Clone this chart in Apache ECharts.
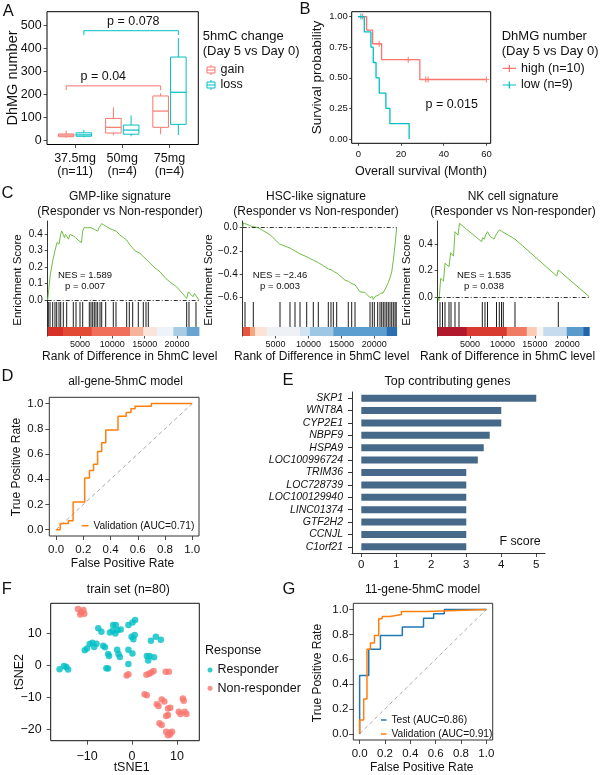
<!DOCTYPE html>
<html>
<head>
<meta charset="utf-8">
<script src="https://cdn.jsdelivr.net/npm/echarts@6/dist/echarts.min.js"></script>
<style>html,body{margin:0;padding:0;background:#fff;}#chart{width:600px;height:775px;}</style>
</head>
<body>
<div id="chart"></div>
<script>
// ================= DATA =================
// Panel A
const doseLabels = ['37.5mg\n(n=11)', '50mg\n(n=4)', '75mg\n(n=4)'];
const gainStats = [[10, 15, 22, 27, 42], [22, 31, 56, 95, 143], [26, 56, 127, 193, 205]]; // min,q1,median,q3,max
const lossStats = [[12, 17, 23, 32, 44], [17, 26, 44, 66, 108], [22, 69, 209, 363, 446]];
const aYTicks = [0, 100, 200, 300, 400, 500];
const lossBracket = [459, 478];
const gainBracket = [219, 237];
const bracketCats = [0, 2];

// Panel B
const highCurve = [[0, 1], [3.9, 0.889], [6.7, 0.778], [10.9, 0.648], [28.8, 0.486], [60, 0.486]];
const lowCurve = [[0, 1], [2.8, 0.875], [5.9, 0.75], [7.0, 0.625], [8.3, 0.5], [9.8, 0.375], [12.9, 0.25], [14.8, 0.125], [23.8, 0]];
const highCensor = [[2.0, 1], [9.8, 0.778], [23.4, 0.648], [31.6, 0.486], [32.7, 0.486], [60, 0.486]];
const lowCensor = [[1.2, 1]];
const bXTicks = [0, 20, 40, 60];
const bYTicks = [0, 0.25, 0.5, 0.75, 1];

// Panel C
const rankTicks = [5000, 10000, 15000, 20000];
const c1ES = [[0,0],[356,0.14],[510,0.13],[773,0.24],[1052,0.23],[1129,0.30],[1361,0.29],[1438,0.35],[1748,0.34],[2011,0.40],[2165,0.42],[2413,0.41],[2598,0.38],[2753,0.40],[2939,0.39],[3217,0.37],[3449,0.40],[3758,0.41],[3959,0.39],[4300,0.38],[4454,0.39],[4841,0.36],[5073,0.36],[5228,0.35],[5413,0.42],[5614,0.44],[5846,0.45],[6155,0.44],[6434,0.45],[6697,0.44],[6960,0.445],[7207,0.43],[7470,0.44],[7733,0.42],[7934,0.44],[8352,0.465],[8599,0.455],[8970,0.45],[9326,0.44],[9635,0.435],[10146,0.426],[10563,0.42],[11182,0.395],[12218,0.365],[12728,0.335],[13501,0.30],[14275,0.284],[15048,0.255],[15821,0.225],[16594,0.195],[17368,0.172],[18296,0.13],[19069,0.105],[19951,0.08],[20616,0.05],[21498,0.01],[21746,0.05],[22473,0.02],[22705,0.04],[23400,0]];
const c2ES = [[0,0],[122,0.04],[577,0.03],[1413,0.01],[1611,0.02],[2325,0.0],[4148,-0.06],[5592,-0.14],[5744,-0.13],[7187,-0.175],[7947,-0.2],[8707,-0.225],[9771,-0.25],[10758,-0.28],[11518,-0.3],[13037,-0.355],[13417,-0.36],[13797,-0.375],[14329,-0.39],[15545,-0.45],[16076,-0.46],[16608,-0.48],[17064,-0.49],[17824,-0.55],[18584,-0.555],[19343,-0.6],[19693,-0.59],[19845,-0.615],[20104,-0.59],[20331,-0.6],[20559,-0.58],[20787,-0.59],[21015,-0.56],[21319,-0.56],[21622,-0.53],[21881,-0.52],[22124,-0.47],[22382,-0.43],[22641,-0.38],[22884,-0.28],[23142,-0.15],[23400,0]];
const c3ES = [[0,0],[201,-0.03],[463,0.14],[895,0.12],[1127,0.255],[1744,0.23],[2007,0.336],[2439,0.31],[2670,0.496],[3133,0.47],[3365,0.56],[6791,0.42],[6915,0.45],[7224,0.44],[7378,0.47],[7532,0.455],[7687,0.496],[8072,0.46],[8690,0.44],[9076,0.48],[9307,0.47],[9508,0.51],[9848,0.50],[10125,0.515],[11931,0.44],[12085,0.45],[18367,0.158],[18615,0.204],[23400,0]];
const c1Hits = [93,356,773,1129,1392,1748,2011,2413,2939,3959,4377,4996,5413,6434,6697,6960,7207,7470,7733,8089,8352,8970,10146,10563,12218,12620,13146,14012,14785,15203,15559,21498,21853,22936];
const c2Hits = [350,1611,5668,7187,7947,8707,9725,10728,11487,13007,13417,13767,14283,16045,16562,17064,19343,19692,19996,20513,20862,21121,21364,21622,21881,22124,22382,22641,22884,23142,23324];
const c3Hits = [355,741,1127,1744,2053,2670,3287,6884,7300,7687,9076,9508,9848,10125,11931,18615];
const c1Strip = [[0,2366],[2366,6805],[6805,12730],[12730,14787],[14787,16905],[16905,19425],[19425,21498],[21498,23400]];
const c1StripColors = ['#D73027','#E34A36','#EF6F5A','#F6B39C','#FBE4DB','#EEF3F8','#A9CCE4','#6AA5D2'];
const c2Strip = [[0,1109],[1109,1869],[1869,3647],[3647,8707],[8707,10227],[10227,13767],[13767,21881],[21881,23400]];
const c2StripColors = ['#E8553E','#F4A582','#FBE3D6','#EEF1F6','#D2E4F1','#9DC7E2','#5B9ECF','#2C6FB0'];
const c3Strip = [[0,4476],[4476,10651],[10651,13738],[13738,15282],[15282,16300],[16300,19911],[19911,22473],[22473,23400]];
const c3StripColors = ['#B2182B','#D93A30','#F07A62','#FACCB5','#F7F4F2','#C6DCEE','#5A9BCC','#2166AC'];
const c1Ticks = [0, 0.1, 0.2, 0.3, 0.4];
const c2Ticks = [-0.6, -0.4, -0.2, 0];
const c3Ticks = [0, 0.2, 0.4];

// Panel D
const rocTicks = [0, 0.2, 0.4, 0.6, 0.8, 1.0];
const diagonal = [[0, 0], [1, 1]];
const dRoc = [[0,0],[0.03,0],[0.03,0.05],[0.09,0.05],[0.09,0.07],[0.125,0.07],[0.125,0.22],[0.21,0.22],[0.21,0.41],[0.245,0.41],[0.245,0.47],[0.275,0.47],[0.275,0.52],[0.305,0.52],[0.305,0.62],[0.335,0.62],[0.335,0.69],[0.365,0.69],[0.365,0.79],[0.455,0.79],[0.455,0.9],[0.515,0.9],[0.515,0.93],[0.55,0.93],[0.55,0.96],[0.58,0.96],[0.58,0.98],[0.7,0.98],[0.7,1],[1,1]];

// Panel E
const genes = ['SKP1','WNT8A','CYP2E1','NBPF9','HSPA9','LOC100996724','TRIM36','LOC728739','LOC100129940','LINC01374','GTF2H2','CCNJL','C1orf21'];
const fScores = [5, 4, 4, 3.67, 3.5, 3.33, 3, 3, 3, 3, 3, 3, 3];
const eTicks = [0, 1, 2, 3, 4, 5];

// Panel F
const responders = [[-16.1,-1.2],[-15.1,-0.2],[-14.6,-0.5],[-14.2,-1.3],[-10.5,4.7],[-10.0,5.2],[-9.4,6.6],[-8.8,7.0],[-8.4,5.7],[-7.9,6.7],[-7.5,11.5],[-6.8,10.4],[-6.4,6.1],[-6.0,5.6],[-5.7,-0.9],[-5.3,-1.0],[-5.3,3.5],[-5.1,2.9],[-4.9,10.2],[-4.3,10.7],[-4.2,12.5],[-3.6,12.5],[-3.7,9.9],[-3.2,10.9],[-2.5,11.1],[-3.3,4.8],[-3.0,3.5],[-2.7,2.6],[-0.8,12.5],[-0.8,4.8],[-0.8,0.4],[-0.1,8.9],[0.3,8.1],[0.6,9.4],[0.1,3.7],[0.7,14.1],[0.1,13.3],[3.3,2.9],[3.9,2.9],[3.6,1.5],[4.2,7.6],[4.9,2.5],[5.3,8.9],[6.4,7.9]];
const nonResponders = [[-12.0,17.5],[-11.3,16.5],[-10.8,17.2],[-11.5,15.8],[-10.6,16.0],[-1.2,-3.2],[-0.8,-2.8],[3.2,-2.9],[3.8,-2.6],[4.3,-2.2],[4.8,-1.8],[7.5,-2.0],[8.2,-2.0],[2.8,-9.0],[3.3,-9.3],[5.5,-12.1],[5.9,-12.6],[6.6,-10.6],[7.2,-11.2],[8.0,-13.4],[8.5,-13.2],[8.0,-15.4],[7.6,-15.7],[6.1,-18.0],[6.6,-18.5],[7.6,-20.6],[8.4,-20.9],[8.9,-20.6],[8.0,-21.7],[8.5,-21.4],[10.4,-14.4],[10.8,-15.1],[11.7,-14.4],[12.1,-15.1],[11.3,-10.3],[11.5,-11.0]];
const fXTicks = [-10, 0, 10];
const fYTicks = [-20, -10, 0, 10];

// Panel G
const gTest = [[0,0],[0,0.47],[0.072,0.47],[0.072,0.68],[0.164,0.68],[0.164,0.79],[0.337,0.79],[0.337,0.86],[0.504,0.86],[0.504,0.93],[0.584,0.93],[0.584,0.965],[0.668,0.965],[0.668,1],[1,1]];
const gVal = [[0,0],[0,0.11],[0.032,0.11],[0.032,0.28],[0.058,0.28],[0.058,0.68],[0.085,0.68],[0.085,0.73],[0.117,0.73],[0.117,0.79],[0.151,0.79],[0.151,0.926],[0.178,0.926],[0.178,0.944],[0.24,0.944],[0.24,0.96],[0.33,0.96],[0.33,0.984],[0.52,0.984],[0.52,1],[1,1]];

// ================= STYLE =================
const FONT = 'Liberation Sans, Arial, Helvetica, sans-serif';
const RED = '#F8766D', CYAN = '#00BFC4', GREEN = '#6EBE45', ORANGE = '#FF7F0E', BLUE = '#1F77B4', BAR = '#46698A';
const BOX_OFF = 0.1875, BOX_HW = 0.165, STRIP_FRAC = 0.265;
const minus = v => String(v).replace('-', '\u2212');

function vaxis(gi, min, max, o) {
  o = o || {};
  const a = {type: 'value', gridIndex: gi, min: min, max: max, splitLine: {show: false},
    axisLine: {show: false, onZero: false}, axisTick: {show: false}, axisLabel: {show: false}};
  if (o.ticks) {
    a.axisTick = {show: true, customValues: o.ticks, length: o.tickLen || 3, lineStyle: {color: '#222', width: 0.8}};
    a.axisLabel = {show: true, customValues: o.ticks, margin: o.margin, fontSize: o.fs, color: '#111', fontFamily: FONT,
      hideOverlap: false, formatter: o.fmt || (v => String(v))};
    if (o.lh) a.axisLabel.lineHeight = o.lh;
  }
  if (o.line) a.axisLine = {show: true, onZero: false, lineStyle: {color: '#000', width: 0.8}};
  return a;
}

const gridDefs = [
  {left: 47, top: 11.7, width: 151.3, height: 132.8, frame: '#000'},      // 0 A
  {left: 351.7, top: 11.7, width: 139, height: 131.6, frame: '#000'},     // 1 B
  {left: 47.7, top: 221, width: 151.3, height: 81},                       // 2 C1 ES
  {left: 47.7, top: 302, width: 151.3, height: 34},                       // 3 C1 bar
  {left: 242.7, top: 221, width: 154, height: 81},                        // 4 C2 ES
  {left: 242.7, top: 302, width: 154, height: 34},                        // 5 C2 bar
  {left: 437.7, top: 221, width: 151.6, height: 81},                      // 6 C3 ES
  {left: 437.7, top: 302, width: 151.6, height: 34},                      // 7 C3 bar
  {left: 49.3, top: 397.3, width: 149.7, height: 138.7, frame: '#333'},   // 8 D
  {left: 352, top: 392, width: 193, height: 161},                         // 9 E
  {left: 50.7, top: 603.3, width: 148.6, height: 137.4, frame: '#111'},   // 10 F
  {left: 353.3, top: 603.3, width: 139.4, height: 136.7, frame: '#333'}   // 11 G
];
const grids = gridDefs.map(g => ({
  left: g.left, top: g.top, width: g.width, height: g.height, containLabel: false, outerBoundsMode: 'none',
  show: !!g.frame, borderColor: g.frame || '#000', borderWidth: 1, backgroundColor: 'rgba(0,0,0,0)'
}));

const f1 = v => v.toFixed(1);
const f1m = v => minus(v.toFixed(1));
const plain = v => String(Math.round(v));

const xAxes = [
  vaxis(0, -0.593, 2.61, {ticks: [0, 1, 2], fs: 12.5, margin: 7, lh: 13.4, tickLen: 3.5, fmt: v => doseLabels[Math.round(v)]}),
  vaxis(1, -3.1, 62, {ticks: bXTicks, fs: 9.5, margin: 6, tickLen: 2.5, fmt: plain}),
  vaxis(2, 0, 23400),
  vaxis(3, 0, 23400, {ticks: rankTicks, fs: 9, margin: 4, tickLen: 2.5, fmt: plain}),
  vaxis(4, 0, 23400),
  vaxis(5, 0, 23400, {ticks: rankTicks, fs: 9, margin: 4, tickLen: 2.5, fmt: plain}),
  vaxis(6, 0, 23400),
  vaxis(7, 0, 23400, {ticks: rankTicks, fs: 9, margin: 4, tickLen: 2.5, fmt: plain}),
  vaxis(8, -0.05, 1.05, {ticks: rocTicks, fs: 11.5, margin: 7.5, tickLen: 4, fmt: f1}),
  vaxis(9, -0.266, 5.25, {ticks: eTicks, fs: 11.5, margin: 5.5, tickLen: 4, line: true, fmt: plain}),
  vaxis(10, -18.07, 14.96, {ticks: fXTicks, fs: 12.5, margin: 9, tickLen: 4, fmt: minus}),
  vaxis(11, -0.05, 1.05, {ticks: rocTicks, fs: 11.5, margin: 7.5, tickLen: 4, fmt: f1})
];
const yAxes = [
  vaxis(0, -19, 561, {ticks: aYTicks, fs: 12.5, margin: 5.3, tickLen: 3.5, fmt: plain}),
  vaxis(1, -0.035, 1.04, {ticks: bYTicks, fs: 9.5, margin: 4, tickLen: 2.5, fmt: v => v.toFixed(2)}),
  vaxis(2, -0.012, 0.481, {ticks: c1Ticks, fs: 10, margin: 5, tickLen: 3, line: true, fmt: f1m}),
  vaxis(3, 0, 1, {line: true}),
  vaxis(4, -0.637, 0.057, {ticks: c2Ticks, fs: 10, margin: 5, tickLen: 3, line: true, fmt: f1m}),
  vaxis(5, 0, 1, {line: true}),
  vaxis(6, -0.04, 0.578, {ticks: c3Ticks, fs: 10, margin: 5, tickLen: 3, line: true, fmt: f1m}),
  vaxis(7, 0, 1, {line: true}),
  vaxis(8, -0.05, 1.05, {ticks: rocTicks, fs: 11.5, margin: 6, tickLen: 4, fmt: f1}),
  {type: 'category', gridIndex: 9, data: genes, inverse: true,
    axisLine: {show: true, onZero: false, lineStyle: {color: '#000', width: 0.8}},
    axisTick: {show: true, alignWithLabel: true, interval: 0, length: 4, lineStyle: {color: '#000', width: 0.8}},
    axisLabel: {interval: 0, hideOverlap: false, fontSize: 10.5, fontStyle: 'italic', color: '#111', margin: 9, fontFamily: FONT},
    splitLine: {show: false}},
  vaxis(10, -23.4, 19.25, {ticks: fYTicks, fs: 12.5, margin: 9, tickLen: 4, fmt: minus}),
  vaxis(11, -0.05, 1.05, {ticks: rocTicks, fs: 11.5, margin: 5, tickLen: 4, fmt: f1})
];

// ---------- series ----------
function boxSeries(name, stats, color, offset) {
  return {
    type: 'custom', name: name, xAxisIndex: 0, yAxisIndex: 0, color: color,
    itemStyle: {color: '#fff', borderColor: color, borderWidth: 1},
    data: stats.map((s, i) => [i].concat(s)),
    encode: {x: 0, y: [1, 2, 3, 4, 5]},
    renderItem: function (params, api) {
      const x = api.value(0) + offset;
      const pMin = api.coord([x, api.value(1)]), pQ1 = api.coord([x, api.value(2)]),
        pMed = api.coord([x, api.value(3)]), pQ3 = api.coord([x, api.value(4)]), pMax = api.coord([x, api.value(5)]);
      const xl = api.coord([x - BOX_HW, 0])[0], xr = api.coord([x + BOX_HW, 0])[0];
      const st = {stroke: color, lineWidth: 1, fill: null};
      return {type: 'group', children: [
        {type: 'line', shape: {x1: pMin[0], y1: pMin[1], x2: pQ1[0], y2: pQ1[1]}, style: st},
        {type: 'line', shape: {x1: pQ3[0], y1: pQ3[1], x2: pMax[0], y2: pMax[1]}, style: st},
        {type: 'rect', shape: {x: xl, y: pQ3[1], width: xr - xl, height: pQ1[1] - pQ3[1]}, style: {stroke: color, lineWidth: 1, fill: '#fff'}},
        {type: 'line', shape: {x1: xl, y1: pMed[1], x2: xr, y2: pMed[1]}, style: {stroke: color, lineWidth: 1.2}}
      ]};
    }
  };
}
function bracket(cats, ys, offset, color) {
  const a = cats[0] + offset, b = cats[1] + offset;
  return {type: 'line', xAxisIndex: 0, yAxisIndex: 0, symbol: 'none', silent: true, color: color,
    lineStyle: {color: color, width: 1},
    data: [[a, ys[0]], [a, ys[1]], [b, ys[1]], [b, ys[0]]]};
}
const PLUS = 'path://M4,0H6V4H10V6H6V10H4V6H0V4H4Z';
function kmLine(name, data, color) {
  return {type: 'line', name: name, xAxisIndex: 1, yAxisIndex: 1, step: 'end', symbol: 'none', color: color,
    lineStyle: {color: color, width: 1.3}, data: data};
}
function censor(data, color) {
  return {type: 'scatter', name: '_c' + color, xAxisIndex: 1, yAxisIndex: 1, symbol: PLUS, symbolSize: 6, color: color,
    itemStyle: {color: color}, data: data};
}
function esSeries(gi, data) {
  return {type: 'line', xAxisIndex: gi, yAxisIndex: gi, symbol: 'none', data: data, color: GREEN,
    lineStyle: {color: GREEN, width: 1},
    markLine: {silent: true, symbol: 'none', label: {show: false},
      lineStyle: {color: '#000', type: [4, 2, 1, 2], width: 0.8}, data: [{yAxis: 0}]}};
}
function barcodeSeries(gi, hits) {
  return {type: 'custom', xAxisIndex: gi, yAxisIndex: gi, data: hits.map(r => [r, 1]), encode: {x: 0, y: 1},
    renderItem: function (params, api) {
      const t = api.coord([api.value(0), 1]), b = api.coord([api.value(0), STRIP_FRAC]);
      return {type: 'line', shape: {x1: t[0], y1: t[1], x2: b[0], y2: b[1]}, style: {stroke: '#000', lineWidth: 0.9}};
    }};
}
function stripSeries(gi, bins, colors) {
  return {type: 'custom', xAxisIndex: gi, yAxisIndex: gi, data: bins.map((b, i) => [b[0], b[1], 0.1, i]),
    encode: {x: [0, 1], y: 2},
    renderItem: function (params, api) {
      const p0 = api.coord([api.value(0), 0]), p1 = api.coord([api.value(1), STRIP_FRAC]);
      return {type: 'rect', shape: {x: p0[0], y: p1[1], width: p1[0] - p0[0] + 0.4, height: p0[1] - p1[1]},
        style: {fill: colors[api.value(3)]}};
    }};
}
function rocLine(gi, name, data, color, dashed) {
  return {type: 'line', name: name, xAxisIndex: gi, yAxisIndex: gi, symbol: 'none', data: data, color: color,
    lineStyle: {color: color, width: dashed ? 1 : 1.5, type: dashed ? [4, 3] : 'solid'}};
}

const series = [
  boxSeries('gain', gainStats, RED, -BOX_OFF),
  boxSeries('loss', lossStats, CYAN, BOX_OFF),
  bracket(bracketCats, lossBracket, BOX_OFF, CYAN),
  bracket(bracketCats, gainBracket, -BOX_OFF, RED),
  kmLine('high (n=10)', highCurve, RED),
  kmLine('low (n=9)', lowCurve, CYAN),
  censor(highCensor, RED),
  censor(lowCensor, CYAN),
  stripSeries(3, c1Strip, c1StripColors), barcodeSeries(3, c1Hits), esSeries(2, c1ES),
  stripSeries(5, c2Strip, c2StripColors), barcodeSeries(5, c2Hits), esSeries(4, c2ES),
  stripSeries(7, c3Strip, c3StripColors), barcodeSeries(7, c3Hits), esSeries(6, c3ES),
  rocLine(8, '_diagD', diagonal, '#AAAAAA', true),
  rocLine(8, 'Validation (AUC=0.71)', dRoc, ORANGE, false),
  {type: 'bar', xAxisIndex: 9, yAxisIndex: 9, data: fScores, barWidth: 7, color: BAR, itemStyle: {color: BAR}},
  {type: 'scatter', name: 'Responder', xAxisIndex: 10, yAxisIndex: 10, data: responders, symbolSize: 6.5, color: CYAN, itemStyle: {color: CYAN}},
  {type: 'scatter', name: 'Non-responder', xAxisIndex: 10, yAxisIndex: 10, data: nonResponders, symbolSize: 6.5, color: RED, itemStyle: {color: RED}},
  rocLine(11, '_diagG', diagonal, '#AAAAAA', true),
  rocLine(11, 'Test (AUC=0.86)', gTest, BLUE, false),
  rocLine(11, 'Validation (AUC=0.91)', gVal, ORANGE, false)
];

const BOXICON = 'path://M4.5,0V2M0.5,2H8.5V8H0.5ZM0.5,5H8.5M4.5,8V10';
const KMICON = 'path://M0,3.4H13V4.6H0ZM5.9,0.5H7.1V7.5H5.9Z';
const legTxt = (fs, lh) => ({fontSize: fs, lineHeight: lh, color: '#111', fontFamily: FONT});
const legends = [
  {left: 206.5, top: 63, orient: 'vertical', itemGap: 1, itemWidth: 9, itemHeight: 10, padding: 0, selectedMode: false,
    textStyle: legTxt(12.5, 14),
    data: [{name: 'gain', icon: BOXICON, itemStyle: {color: '#fff', borderColor: RED, borderWidth: 1}},
           {name: 'loss', icon: BOXICON, itemStyle: {color: '#fff', borderColor: CYAN, borderWidth: 1}}]},
  {left: 502.7, top: 61.3, orient: 'vertical', itemGap: 2.7, itemWidth: 13.3, itemHeight: 8, padding: 0, selectedMode: false,
    textStyle: legTxt(12.5, 14),
    data: [{name: 'high (n=10)', icon: KMICON}, {name: 'low (n=9)', icon: KMICON}]},
  {left: 81.7, top: 519.2, orient: 'vertical', itemGap: 1, itemWidth: 6.7, itemHeight: 1.5, icon: 'rect', padding: 0, selectedMode: false,
    textStyle: legTxt(10.2, 13), data: ['Validation (AUC=0.71)']},
  {left: 207.5, top: 663, orient: 'vertical', itemGap: 4.3, itemWidth: 5, itemHeight: 5, icon: 'circle', padding: 0, selectedMode: false,
    textStyle: legTxt(12.5, 14), data: ['Responder', 'Non-responder']},
  {left: 381, top: 713.5, orient: 'vertical', itemGap: 1, itemWidth: 5.5, itemHeight: 1.5, icon: 'rect', padding: 0, selectedMode: false,
    textStyle: legTxt(10.2, 13), data: ['Test (AUC=0.86)', 'Validation (AUC=0.91)']}
];

function txt(text, x, y, fs, o) {
  o = o || {};
  const al = o.align || 'center';
  return {type: 'text', x: x, y: y, rotation: o.rot || 0, silent: true,
    style: {text: text, fontSize: fs, fontFamily: FONT, fill: '#111', align: al, textAlign: al,
      verticalAlign: 'middle', textVerticalAlign: 'middle', fontStyle: o.italic ? 'italic' : 'normal'}};
}
const R = Math.PI / 2;
const texts = [
  // panel letters
  txt('A', 8.3, 11, 16.5), txt('B', 305, 9, 16.5), txt('C', 7.5, 193, 16.5), txt('D', 7.5, 376, 16.5),
  txt('E', 288, 380, 16.5), txt('F', 6.7, 589, 16.5), txt('G', 289, 589, 16.5),
  // A
  txt('DhMG number', 12.5, 78, 14.5, {rot: R}),
  txt('5hmC change', 202.7, 36, 13, {align: 'left'}), txt('(Day 5 vs Day 0)', 202.7, 51, 13, {align: 'left'}),
  txt('p = 0.078', 133.3, 21.7, 12.5), txt('p = 0.04', 103.3, 76.7, 12.5),
  // B
  txt('Survival probability', 317, 77.5, 13.5, {rot: R}),
  txt('Overall survival (Month)', 421, 171.7, 12.5),
  txt('DhMG number', 501.7, 36, 13, {align: 'left'}), txt('(Day 5 vs Day 0)', 501.7, 51, 13, {align: 'left'}),
  txt('p = 0.015', 451.7, 105, 12.5),
  // C
  txt('GMP-like signature', 120, 196.7, 12), txt('(Responder vs Non-responder)', 120, 211.7, 12),
  txt('HSC-like signature', 316, 196.7, 12), txt('(Responder vs Non-responder)', 316, 211.7, 12),
  txt('NK cell signature', 513, 196.7, 12), txt('(Responder vs Non-responder)', 513, 211.7, 12),
  txt('Enrichment Score', 18, 280, 11.5, {rot: R}), txt('Enrichment Score', 209, 280, 11.5, {rot: R}),
  txt('Enrichment Score', 407, 280, 11.5, {rot: R}),
  txt('NES = 1.589', 85, 275, 9.5), txt('p = 0.007', 85, 286, 9.5),
  txt('NES = \u22122.46', 280, 275, 9.5), txt('p = 0.003', 280, 286, 9.5),
  txt('NES = 1.535', 484, 275, 9.5), txt('p = 0.038', 484, 286, 9.5),
  txt('Rank of Difference in 5hmC level', 129.7, 357, 12),
  txt('Rank of Difference in 5hmC level', 321.7, 357, 12),
  txt('Rank of Difference in 5hmC level', 507.5, 357, 12),
  // D
  txt('all-gene-5hmC model', 125.5, 382, 12),
  txt('True Positive Rate', 17, 467, 12, {rot: R}),
  txt('False Positive Rate', 122.5, 563.3, 12),
  // E
  txt('Top contributing genes', 447.5, 381.7, 12.5),
  txt('F score', 540.7, 541.7, 12.4, {align: 'right'}),
  // F
  txt('train set (n=80)', 128.3, 590, 12.3),
  txt('tSNE2', 20, 672, 12.5, {rot: R}),
  txt('tSNE1', 131.7, 768, 12.5),
  txt('Response', 205, 650.7, 12.5, {align: 'left'}),
  // G
  txt('11-gene-5hmC model', 422.5, 590, 12),
  txt('True Positive Rate', 318, 673, 12, {rot: R}),
  txt('False Positive Rate', 421.7, 768, 12)
];

const chart = echarts.init(document.getElementById('chart'), null, {renderer: 'canvas'});
chart.setOption({
  animation: false,
  backgroundColor: '#fff',
  textStyle: {fontFamily: FONT},
  grid: grids,
  xAxis: xAxes,
  yAxis: yAxes,
  legend: legends,
  series: series,
  graphic: texts
});
</script>
</body>
</html>
